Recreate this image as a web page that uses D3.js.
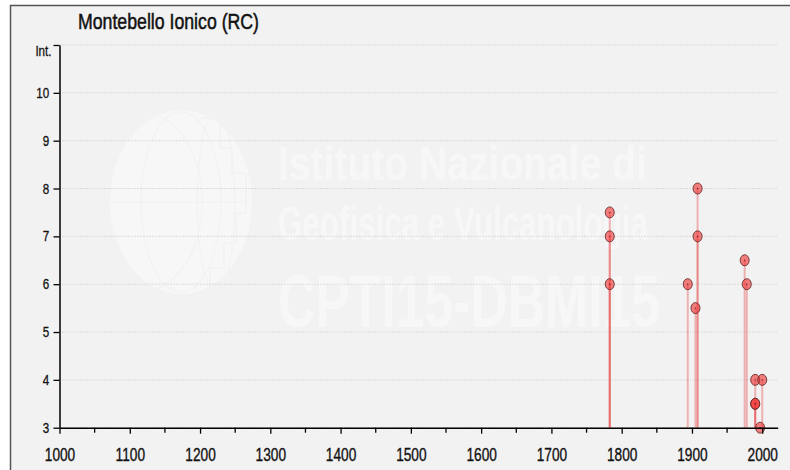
<!DOCTYPE html>
<html>
<head>
<meta charset="utf-8">
<script src="https://cdn.jsdelivr.net/npm/d3@7"></script>
<style>
  body { margin: 0; background: #fff; }
  svg { display: block; }
  text { font-family: "Liberation Sans", Arial, sans-serif; }
</style>
</head>
<body>
<div id="chart"></div>
<script>
// intensity observations at Montebello Ionico (year, MCS intensity)
var years       = [1783, 1783, 1783, 1894, 1905, 1908, 1908, 1975, 1978, 1990, 1990, 1990, 1997, 2000];
var intensities = [7.5,  7,    6,    6,    5.5,  8,    7,    6.5,  6,    4,    3.5,  3.5,  3,    4];
var xTickYears  = [1000, 1100, 1200, 1300, 1400, 1500, 1600, 1700, 1800, 1900, 2000];
var yTickValues = [3, 4, 5, 6, 7, 8, 9, 10];
var title = "Montebello Ionico (RC)";

var width = 790, height = 470;
var svg = d3.select("#chart").append("svg")
    .attr("width", width)
    .attr("height", height);

// frame + background
svg.append("rect")
    .attr("x", 10).attr("y", 5)
    .attr("width", width - 10).attr("height", height - 5)
    .attr("fill", "#f2f2f2");
svg.append("path")
    .attr("d", "M10.5,470V5.5H790")
    .attr("fill", "none")
    .attr("stroke", "#555")
    .attr("stroke-width", 1.5);

var x = d3.scaleLinear().domain([1000, 2022]).range([59.5, 777.7]);
var y = d3.scaleLinear().domain([3, 11]).range([427.7, 45]);

// watermark
var wm = svg.append("g").attr("class", "watermark");
wm.append("ellipse")
    .attr("cx", 181).attr("cy", 202).attr("rx", 71).attr("ry", 92)
    .attr("fill", "#fff").attr("opacity", 0.4);
[[-40, 0.25], [0, 0.55], [35, 0.85]].forEach(function(m) {
  wm.append("ellipse")
    .attr("cx", 181 + m[0]).attr("cy", 202)
    .attr("rx", 71 * (1 - m[1]) + 8).attr("ry", 90)
    .attr("fill", "none").attr("stroke", "#f2f2f2").attr("stroke-width", 1.2);
});
wm.append("line").attr("x1", 110).attr("x2", 252).attr("y1", 202).attr("y2", 202)
    .attr("stroke", "#f2f2f2").attr("stroke-width", 1.2);
wm.append("path")
    .attr("d", "M200,118h20v30h12v25h14v40h-10v30h-12v25h-14v20")
    .attr("fill", "none").attr("stroke", "#f2f2f2").attr("stroke-width", 1.5);
wm.append("text").attr("x", 278).attr("y", 180)
    .attr("font-size", 49).attr("font-weight", "bold")
    .attr("textLength", 369).attr("lengthAdjust", "spacingAndGlyphs")
    .attr("fill", "#fff").attr("opacity", 0.45)
    .text("Istituto Nazionale di");
wm.append("text").attr("x", 278).attr("y", 240)
    .attr("font-size", 49).attr("font-weight", "bold")
    .attr("textLength", 370).attr("lengthAdjust", "spacingAndGlyphs")
    .attr("fill", "#fff").attr("opacity", 0.45)
    .text("Geofisica e Vulcanologia");
wm.append("text").attr("x", 278).attr("y", 327)
    .attr("font-size", 75).attr("font-weight", "bold")
    .attr("textLength", 382).attr("lengthAdjust", "spacingAndGlyphs")
    .attr("fill", "#fff").attr("opacity", 0.45)
    .text("CPTI15-DBMI15");

// dotted grid
svg.append("g")
    .selectAll("line")
    .data(yTickValues.concat([11]))
    .enter().append("line")
      .attr("x1", x(1000)).attr("x2", 777)
      .attr("y1", function(d) { return y(d); })
      .attr("y2", function(d) { return y(d); })
      .attr("stroke", "#c4c4c4")
      .attr("stroke-dasharray", "1,2");

// title
svg.append("text")
    .attr("x", 78).attr("y", 29)
    .attr("font-size", 22)
    .attr("textLength", 181).attr("lengthAdjust", "spacingAndGlyphs")
    .attr("fill", "#111").attr("stroke", "#111").attr("stroke-width", 0.5)
    .text(title);

// stems and points
var pts = years.map(function(yr, i) { return {year: yr, int: intensities[i]}; });

svg.append("g").selectAll("line")
    .data(pts)
    .enter().append("line")
      .attr("x1", function(d) { return x(d.year); })
      .attr("x2", function(d) { return x(d.year); })
      .attr("y1", function(d) { return y(d.int); })
      .attr("y2", y(3))
      .attr("stroke", "rgb(232,70,70)")
      .attr("stroke-opacity", 0.38)
      .attr("stroke-width", 2);

var dots = svg.append("g").selectAll("g")
    .data(pts)
    .enter().append("g")
      .attr("transform", function(d) { return "translate(" + x(d.year) + "," + y(d.int) + ")"; });
dots.append("ellipse")
    .attr("rx", 4.5).attr("ry", 5.5)
    .attr("fill", "rgba(240,45,45,0.6)")
    .attr("stroke", "#6b3030")
    .attr("stroke-width", 0.9);
dots.append("circle")
    .attr("r", 0.7)
    .attr("fill", "#6b2020");

// axes
var xAxis = svg.append("g")
    .attr("transform", "translate(0," + y(3) + ")")
    .call(d3.axisBottom(x).tickValues(xTickYears).tickSize(6).tickSizeOuter(0).tickFormat(d3.format("d")));
xAxis.select(".domain").attr("stroke", "#000").attr("stroke-width", 1.5);
xAxis.selectAll(".tick line").attr("stroke", "#000").attr("stroke-width", 1.3);
xAxis.selectAll(".tick text")
    .attr("y", 20)
    .attr("font-size", 18.5)
    .attr("font-family", "Liberation Sans, Arial, sans-serif")
    .attr("fill", "#111").attr("stroke", "#111").attr("stroke-width", 0.35)
    .attr("transform", "scale(0.74,1)");

// minor ticks every 50 years
svg.append("g").selectAll("line")
    .data(xTickYears.slice(0, -1).map(function(d) { return d + 50; }))
    .enter().append("line")
      .attr("x1", function(d) { return x(d); })
      .attr("x2", function(d) { return x(d); })
      .attr("y1", y(3)).attr("y2", y(3) + 5)
      .attr("stroke", "#000").attr("stroke-width", 1.3);

var yAxis = svg.append("g")
    .attr("transform", "translate(" + x(1000) + ",0)")
    .call(d3.axisLeft(y).tickValues(yTickValues.concat([11])).tickSize(6).tickSizeOuter(0)
      .tickFormat(function(d) { return d === 11 ? "" : d; }));
yAxis.select(".domain").attr("stroke", "#000").attr("stroke-width", 1.5);
yAxis.selectAll(".tick line").attr("stroke", "#000").attr("stroke-width", 1.3);
yAxis.selectAll(".tick text")
    .attr("x", -13)
    .attr("font-size", 14.5)
    .attr("font-family", "Liberation Sans, Arial, sans-serif")
    .attr("fill", "#111").attr("stroke", "#111").attr("stroke-width", 0.3)
    .attr("transform", "scale(0.8,1)");

svg.append("text")
    .attr("transform", "translate(" + (x(1000) - 8) + "," + (y(11) + 11) + ") scale(0.8,1)")
    .attr("text-anchor", "end")
    .attr("font-size", 14.5)
    .attr("fill", "#111").attr("stroke", "#111").attr("stroke-width", 0.3)
    .text("Int.");
</script>
</body>
</html>
